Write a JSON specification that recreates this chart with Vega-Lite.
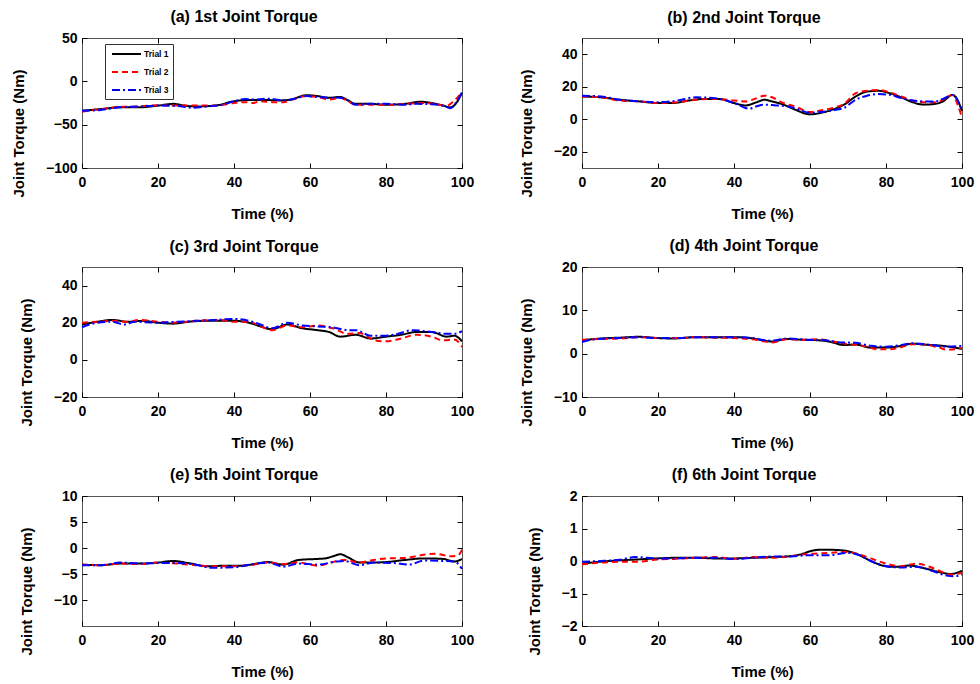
{
"$schema":"https://vega.github.io/schema/vega-lite/v6.json",
"background":"white",
"padding":{"left":10,"top":8,"right":5,"bottom":5},
"data":{"values":[
{"p":"a","s":"Trial 1","t":0,"v":-34},{"p":"a","s":"Trial 1","t":5,"v":-32},{"p":"a","s":"Trial 1","t":10,"v":-30},{"p":"a","s":"Trial 1","t":15,"v":-30},{"p":"a","s":"Trial 1","t":20,"v":-28},{"p":"a","s":"Trial 1","t":24,"v":-26},{"p":"a","s":"Trial 1","t":27,"v":-28},{"p":"a","s":"Trial 1","t":30,"v":-29},{"p":"a","s":"Trial 1","t":35,"v":-28},{"p":"a","s":"Trial 1","t":40,"v":-23},{"p":"a","s":"Trial 1","t":44,"v":-21.5},{"p":"a","s":"Trial 1","t":48,"v":-21.5},{"p":"a","s":"Trial 1","t":52,"v":-22},{"p":"a","s":"Trial 1","t":55,"v":-21},{"p":"a","s":"Trial 1","t":59,"v":-16},{"p":"a","s":"Trial 1","t":62,"v":-17},{"p":"a","s":"Trial 1","t":65,"v":-19},{"p":"a","s":"Trial 1","t":68,"v":-18},{"p":"a","s":"Trial 1","t":70,"v":-22},{"p":"a","s":"Trial 1","t":72,"v":-26},{"p":"a","s":"Trial 1","t":76,"v":-26},{"p":"a","s":"Trial 1","t":80,"v":-27},{"p":"a","s":"Trial 1","t":85,"v":-26},{"p":"a","s":"Trial 1","t":89,"v":-23.5},{"p":"a","s":"Trial 1","t":92,"v":-25},{"p":"a","s":"Trial 1","t":95,"v":-28},{"p":"a","s":"Trial 1","t":97,"v":-30},{"p":"a","s":"Trial 1","t":98.5,"v":-25},{"p":"a","s":"Trial 1","t":100,"v":-13},
{"p":"a","s":"Trial 2","t":0,"v":-35},{"p":"a","s":"Trial 2","t":5,"v":-32},{"p":"a","s":"Trial 2","t":10,"v":-29.5},{"p":"a","s":"Trial 2","t":15,"v":-29},{"p":"a","s":"Trial 2","t":20,"v":-27.5},{"p":"a","s":"Trial 2","t":25,"v":-28},{"p":"a","s":"Trial 2","t":30,"v":-28},{"p":"a","s":"Trial 2","t":35,"v":-28},{"p":"a","s":"Trial 2","t":40,"v":-25},{"p":"a","s":"Trial 2","t":43,"v":-24},{"p":"a","s":"Trial 2","t":45,"v":-25},{"p":"a","s":"Trial 2","t":47,"v":-23},{"p":"a","s":"Trial 2","t":50,"v":-24},{"p":"a","s":"Trial 2","t":53,"v":-24},{"p":"a","s":"Trial 2","t":56,"v":-20},{"p":"a","s":"Trial 2","t":59,"v":-17},{"p":"a","s":"Trial 2","t":62,"v":-18},{"p":"a","s":"Trial 2","t":65,"v":-21},{"p":"a","s":"Trial 2","t":68,"v":-19},{"p":"a","s":"Trial 2","t":70,"v":-23},{"p":"a","s":"Trial 2","t":72,"v":-27},{"p":"a","s":"Trial 2","t":76,"v":-27},{"p":"a","s":"Trial 2","t":80,"v":-27},{"p":"a","s":"Trial 2","t":85,"v":-26},{"p":"a","s":"Trial 2","t":89,"v":-25},{"p":"a","s":"Trial 2","t":93,"v":-26},{"p":"a","s":"Trial 2","t":96,"v":-28},{"p":"a","s":"Trial 2","t":98,"v":-22},{"p":"a","s":"Trial 2","t":100,"v":-13},
{"p":"a","s":"Trial 3","t":0,"v":-34},{"p":"a","s":"Trial 3","t":5,"v":-33},{"p":"a","s":"Trial 3","t":10,"v":-30},{"p":"a","s":"Trial 3","t":15,"v":-29},{"p":"a","s":"Trial 3","t":20,"v":-28},{"p":"a","s":"Trial 3","t":25,"v":-28.5},{"p":"a","s":"Trial 3","t":29,"v":-30.5},{"p":"a","s":"Trial 3","t":33,"v":-29},{"p":"a","s":"Trial 3","t":37,"v":-27},{"p":"a","s":"Trial 3","t":40,"v":-23},{"p":"a","s":"Trial 3","t":43,"v":-20.5},{"p":"a","s":"Trial 3","t":46,"v":-21},{"p":"a","s":"Trial 3","t":49,"v":-20},{"p":"a","s":"Trial 3","t":53,"v":-22},{"p":"a","s":"Trial 3","t":56,"v":-20},{"p":"a","s":"Trial 3","t":59,"v":-17},{"p":"a","s":"Trial 3","t":62,"v":-18},{"p":"a","s":"Trial 3","t":65,"v":-19},{"p":"a","s":"Trial 3","t":68,"v":-19},{"p":"a","s":"Trial 3","t":70,"v":-22},{"p":"a","s":"Trial 3","t":72,"v":-27},{"p":"a","s":"Trial 3","t":76,"v":-26},{"p":"a","s":"Trial 3","t":80,"v":-26},{"p":"a","s":"Trial 3","t":85,"v":-27},{"p":"a","s":"Trial 3","t":88,"v":-26},{"p":"a","s":"Trial 3","t":92,"v":-26.5},{"p":"a","s":"Trial 3","t":95,"v":-28},{"p":"a","s":"Trial 3","t":97,"v":-31},{"p":"a","s":"Trial 3","t":98.5,"v":-24},{"p":"a","s":"Trial 3","t":100,"v":-13},
{"p":"b","s":"Trial 1","t":0,"v":14},{"p":"b","s":"Trial 1","t":5,"v":13.5},{"p":"b","s":"Trial 1","t":10,"v":12},{"p":"b","s":"Trial 1","t":15,"v":11},{"p":"b","s":"Trial 1","t":20,"v":10},{"p":"b","s":"Trial 1","t":24,"v":10},{"p":"b","s":"Trial 1","t":28,"v":11.5},{"p":"b","s":"Trial 1","t":32,"v":12.5},{"p":"b","s":"Trial 1","t":36,"v":12.5},{"p":"b","s":"Trial 1","t":40,"v":10},{"p":"b","s":"Trial 1","t":43,"v":8.5},{"p":"b","s":"Trial 1","t":46,"v":10.5},{"p":"b","s":"Trial 1","t":48,"v":12},{"p":"b","s":"Trial 1","t":50,"v":11},{"p":"b","s":"Trial 1","t":53,"v":9},{"p":"b","s":"Trial 1","t":56,"v":6},{"p":"b","s":"Trial 1","t":60,"v":3},{"p":"b","s":"Trial 1","t":63,"v":4},{"p":"b","s":"Trial 1","t":66,"v":6},{"p":"b","s":"Trial 1","t":69,"v":9},{"p":"b","s":"Trial 1","t":72,"v":14},{"p":"b","s":"Trial 1","t":75,"v":17},{"p":"b","s":"Trial 1","t":78,"v":17.5},{"p":"b","s":"Trial 1","t":81,"v":16},{"p":"b","s":"Trial 1","t":84,"v":13.5},{"p":"b","s":"Trial 1","t":87,"v":10.5},{"p":"b","s":"Trial 1","t":90,"v":9},{"p":"b","s":"Trial 1","t":93,"v":9.5},{"p":"b","s":"Trial 1","t":95,"v":11},{"p":"b","s":"Trial 1","t":97.5,"v":15},{"p":"b","s":"Trial 1","t":99,"v":11},{"p":"b","s":"Trial 1","t":100,"v":5},
{"p":"b","s":"Trial 2","t":0,"v":14},{"p":"b","s":"Trial 2","t":5,"v":13.5},{"p":"b","s":"Trial 2","t":10,"v":11.5},{"p":"b","s":"Trial 2","t":15,"v":11},{"p":"b","s":"Trial 2","t":20,"v":10},{"p":"b","s":"Trial 2","t":25,"v":10.5},{"p":"b","s":"Trial 2","t":30,"v":12},{"p":"b","s":"Trial 2","t":35,"v":12.5},{"p":"b","s":"Trial 2","t":40,"v":11.5},{"p":"b","s":"Trial 2","t":43,"v":11},{"p":"b","s":"Trial 2","t":46,"v":13},{"p":"b","s":"Trial 2","t":48,"v":14.5},{"p":"b","s":"Trial 2","t":50,"v":13.5},{"p":"b","s":"Trial 2","t":53,"v":10},{"p":"b","s":"Trial 2","t":56,"v":8},{"p":"b","s":"Trial 2","t":60,"v":4.5},{"p":"b","s":"Trial 2","t":63,"v":5.5},{"p":"b","s":"Trial 2","t":66,"v":7},{"p":"b","s":"Trial 2","t":69,"v":9.5},{"p":"b","s":"Trial 2","t":72,"v":16},{"p":"b","s":"Trial 2","t":75,"v":17.5},{"p":"b","s":"Trial 2","t":78,"v":18},{"p":"b","s":"Trial 2","t":81,"v":16.5},{"p":"b","s":"Trial 2","t":84,"v":14},{"p":"b","s":"Trial 2","t":87,"v":11.5},{"p":"b","s":"Trial 2","t":90,"v":10.5},{"p":"b","s":"Trial 2","t":93,"v":10.5},{"p":"b","s":"Trial 2","t":95,"v":12},{"p":"b","s":"Trial 2","t":97.5,"v":15},{"p":"b","s":"Trial 2","t":99,"v":8},{"p":"b","s":"Trial 2","t":100,"v":1},
{"p":"b","s":"Trial 3","t":0,"v":14.5},{"p":"b","s":"Trial 3","t":5,"v":14},{"p":"b","s":"Trial 3","t":10,"v":12},{"p":"b","s":"Trial 3","t":15,"v":11},{"p":"b","s":"Trial 3","t":20,"v":10.5},{"p":"b","s":"Trial 3","t":25,"v":11.5},{"p":"b","s":"Trial 3","t":30,"v":13.5},{"p":"b","s":"Trial 3","t":35,"v":13},{"p":"b","s":"Trial 3","t":40,"v":10},{"p":"b","s":"Trial 3","t":44,"v":6.5},{"p":"b","s":"Trial 3","t":46,"v":8},{"p":"b","s":"Trial 3","t":48,"v":9},{"p":"b","s":"Trial 3","t":51,"v":8.5},{"p":"b","s":"Trial 3","t":54,"v":8},{"p":"b","s":"Trial 3","t":57,"v":6},{"p":"b","s":"Trial 3","t":60,"v":4},{"p":"b","s":"Trial 3","t":63,"v":4.5},{"p":"b","s":"Trial 3","t":66,"v":5.5},{"p":"b","s":"Trial 3","t":69,"v":7},{"p":"b","s":"Trial 3","t":72,"v":12},{"p":"b","s":"Trial 3","t":75,"v":14.5},{"p":"b","s":"Trial 3","t":78,"v":15.5},{"p":"b","s":"Trial 3","t":81,"v":15},{"p":"b","s":"Trial 3","t":84,"v":13},{"p":"b","s":"Trial 3","t":87,"v":11.5},{"p":"b","s":"Trial 3","t":90,"v":11},{"p":"b","s":"Trial 3","t":93,"v":11},{"p":"b","s":"Trial 3","t":95,"v":12.5},{"p":"b","s":"Trial 3","t":97.5,"v":15},{"p":"b","s":"Trial 3","t":99,"v":11},{"p":"b","s":"Trial 3","t":100,"v":5},
{"p":"c","s":"Trial 1","t":0,"v":19},{"p":"c","s":"Trial 1","t":4,"v":20.5},{"p":"c","s":"Trial 1","t":8,"v":21.5},{"p":"c","s":"Trial 1","t":12,"v":20.5},{"p":"c","s":"Trial 1","t":16,"v":21},{"p":"c","s":"Trial 1","t":20,"v":20},{"p":"c","s":"Trial 1","t":24,"v":19.5},{"p":"c","s":"Trial 1","t":28,"v":20.5},{"p":"c","s":"Trial 1","t":32,"v":21},{"p":"c","s":"Trial 1","t":36,"v":21},{"p":"c","s":"Trial 1","t":40,"v":21},{"p":"c","s":"Trial 1","t":44,"v":20},{"p":"c","s":"Trial 1","t":47,"v":18},{"p":"c","s":"Trial 1","t":50,"v":16.5},{"p":"c","s":"Trial 1","t":54,"v":19},{"p":"c","s":"Trial 1","t":58,"v":17},{"p":"c","s":"Trial 1","t":62,"v":16},{"p":"c","s":"Trial 1","t":65,"v":15},{"p":"c","s":"Trial 1","t":68,"v":12.5},{"p":"c","s":"Trial 1","t":72,"v":13.5},{"p":"c","s":"Trial 1","t":76,"v":11.5},{"p":"c","s":"Trial 1","t":80,"v":12.5},{"p":"c","s":"Trial 1","t":84,"v":13.5},{"p":"c","s":"Trial 1","t":88,"v":15},{"p":"c","s":"Trial 1","t":92,"v":15},{"p":"c","s":"Trial 1","t":96,"v":12.5},{"p":"c","s":"Trial 1","t":98,"v":13},{"p":"c","s":"Trial 1","t":100,"v":10},
{"p":"c","s":"Trial 2","t":0,"v":20},{"p":"c","s":"Trial 2","t":4,"v":20.5},{"p":"c","s":"Trial 2","t":8,"v":21},{"p":"c","s":"Trial 2","t":12,"v":20.5},{"p":"c","s":"Trial 2","t":15,"v":21.5},{"p":"c","s":"Trial 2","t":20,"v":20.5},{"p":"c","s":"Trial 2","t":24,"v":20},{"p":"c","s":"Trial 2","t":30,"v":21},{"p":"c","s":"Trial 2","t":36,"v":21.5},{"p":"c","s":"Trial 2","t":40,"v":20.5},{"p":"c","s":"Trial 2","t":44,"v":20.5},{"p":"c","s":"Trial 2","t":47,"v":18},{"p":"c","s":"Trial 2","t":50,"v":16},{"p":"c","s":"Trial 2","t":54,"v":18.5},{"p":"c","s":"Trial 2","t":58,"v":17.5},{"p":"c","s":"Trial 2","t":62,"v":18.5},{"p":"c","s":"Trial 2","t":66,"v":17},{"p":"c","s":"Trial 2","t":70,"v":14},{"p":"c","s":"Trial 2","t":73,"v":14.5},{"p":"c","s":"Trial 2","t":77,"v":10.5},{"p":"c","s":"Trial 2","t":80,"v":10},{"p":"c","s":"Trial 2","t":84,"v":11.5},{"p":"c","s":"Trial 2","t":88,"v":13.5},{"p":"c","s":"Trial 2","t":92,"v":12.5},{"p":"c","s":"Trial 2","t":95,"v":10.5},{"p":"c","s":"Trial 2","t":98,"v":11},{"p":"c","s":"Trial 2","t":100,"v":7},
{"p":"c","s":"Trial 3","t":0,"v":17.5},{"p":"c","s":"Trial 3","t":4,"v":20},{"p":"c","s":"Trial 3","t":8,"v":20.5},{"p":"c","s":"Trial 3","t":11,"v":19},{"p":"c","s":"Trial 3","t":14,"v":20.5},{"p":"c","s":"Trial 3","t":20,"v":20},{"p":"c","s":"Trial 3","t":25,"v":20.5},{"p":"c","s":"Trial 3","t":30,"v":21},{"p":"c","s":"Trial 3","t":35,"v":21.5},{"p":"c","s":"Trial 3","t":40,"v":22},{"p":"c","s":"Trial 3","t":44,"v":21},{"p":"c","s":"Trial 3","t":47,"v":19},{"p":"c","s":"Trial 3","t":50,"v":17},{"p":"c","s":"Trial 3","t":54,"v":20},{"p":"c","s":"Trial 3","t":58,"v":18.5},{"p":"c","s":"Trial 3","t":62,"v":18},{"p":"c","s":"Trial 3","t":66,"v":17.5},{"p":"c","s":"Trial 3","t":70,"v":16},{"p":"c","s":"Trial 3","t":72,"v":16},{"p":"c","s":"Trial 3","t":76,"v":13},{"p":"c","s":"Trial 3","t":80,"v":13},{"p":"c","s":"Trial 3","t":83,"v":14},{"p":"c","s":"Trial 3","t":87,"v":16},{"p":"c","s":"Trial 3","t":92,"v":15},{"p":"c","s":"Trial 3","t":96,"v":14},{"p":"c","s":"Trial 3","t":98,"v":14},{"p":"c","s":"Trial 3","t":100,"v":15.5},
{"p":"d","s":"Trial 1","t":0,"v":3.1},{"p":"d","s":"Trial 1","t":5,"v":3.5},{"p":"d","s":"Trial 1","t":10,"v":3.7},{"p":"d","s":"Trial 1","t":15,"v":3.9},{"p":"d","s":"Trial 1","t":20,"v":3.6},{"p":"d","s":"Trial 1","t":24,"v":3.5},{"p":"d","s":"Trial 1","t":30,"v":3.8},{"p":"d","s":"Trial 1","t":35,"v":3.8},{"p":"d","s":"Trial 1","t":40,"v":3.8},{"p":"d","s":"Trial 1","t":45,"v":3.5},{"p":"d","s":"Trial 1","t":48,"v":3.0},{"p":"d","s":"Trial 1","t":50,"v":2.8},{"p":"d","s":"Trial 1","t":54,"v":3.4},{"p":"d","s":"Trial 1","t":58,"v":3.2},{"p":"d","s":"Trial 1","t":62,"v":3.1},{"p":"d","s":"Trial 1","t":65,"v":2.8},{"p":"d","s":"Trial 1","t":69,"v":2.0},{"p":"d","s":"Trial 1","t":72,"v":2.1},{"p":"d","s":"Trial 1","t":76,"v":1.4},{"p":"d","s":"Trial 1","t":80,"v":1.4},{"p":"d","s":"Trial 1","t":84,"v":1.8},{"p":"d","s":"Trial 1","t":87,"v":2.3},{"p":"d","s":"Trial 1","t":90,"v":2.1},{"p":"d","s":"Trial 1","t":95,"v":1.8},{"p":"d","s":"Trial 1","t":100,"v":1.1},
{"p":"d","s":"Trial 2","t":0,"v":3.2},{"p":"d","s":"Trial 2","t":5,"v":3.4},{"p":"d","s":"Trial 2","t":10,"v":3.5},{"p":"d","s":"Trial 2","t":15,"v":3.8},{"p":"d","s":"Trial 2","t":20,"v":3.6},{"p":"d","s":"Trial 2","t":25,"v":3.6},{"p":"d","s":"Trial 2","t":30,"v":3.8},{"p":"d","s":"Trial 2","t":35,"v":3.7},{"p":"d","s":"Trial 2","t":40,"v":3.6},{"p":"d","s":"Trial 2","t":45,"v":3.3},{"p":"d","s":"Trial 2","t":50,"v":2.6},{"p":"d","s":"Trial 2","t":54,"v":3.3},{"p":"d","s":"Trial 2","t":58,"v":3.2},{"p":"d","s":"Trial 2","t":62,"v":3.3},{"p":"d","s":"Trial 2","t":66,"v":2.8},{"p":"d","s":"Trial 2","t":70,"v":2.2},{"p":"d","s":"Trial 2","t":74,"v":1.8},{"p":"d","s":"Trial 2","t":78,"v":1.0},{"p":"d","s":"Trial 2","t":81,"v":1.0},{"p":"d","s":"Trial 2","t":84,"v":1.5},{"p":"d","s":"Trial 2","t":87,"v":2.2},{"p":"d","s":"Trial 2","t":90,"v":2.1},{"p":"d","s":"Trial 2","t":94,"v":1.4},{"p":"d","s":"Trial 2","t":96,"v":0.9},{"p":"d","s":"Trial 2","t":98,"v":1.0},{"p":"d","s":"Trial 2","t":100,"v":1.3},
{"p":"d","s":"Trial 3","t":0,"v":2.7},{"p":"d","s":"Trial 3","t":4,"v":3.4},{"p":"d","s":"Trial 3","t":10,"v":3.6},{"p":"d","s":"Trial 3","t":15,"v":3.8},{"p":"d","s":"Trial 3","t":20,"v":3.6},{"p":"d","s":"Trial 3","t":25,"v":3.6},{"p":"d","s":"Trial 3","t":30,"v":3.8},{"p":"d","s":"Trial 3","t":35,"v":3.8},{"p":"d","s":"Trial 3","t":40,"v":3.8},{"p":"d","s":"Trial 3","t":45,"v":3.6},{"p":"d","s":"Trial 3","t":48,"v":3.1},{"p":"d","s":"Trial 3","t":50,"v":3.0},{"p":"d","s":"Trial 3","t":54,"v":3.5},{"p":"d","s":"Trial 3","t":60,"v":3.2},{"p":"d","s":"Trial 3","t":64,"v":3.1},{"p":"d","s":"Trial 3","t":68,"v":2.6},{"p":"d","s":"Trial 3","t":72,"v":2.5},{"p":"d","s":"Trial 3","t":76,"v":1.8},{"p":"d","s":"Trial 3","t":80,"v":1.6},{"p":"d","s":"Trial 3","t":84,"v":2.0},{"p":"d","s":"Trial 3","t":87,"v":2.4},{"p":"d","s":"Trial 3","t":92,"v":2.0},{"p":"d","s":"Trial 3","t":96,"v":1.6},{"p":"d","s":"Trial 3","t":100,"v":1.8},
{"p":"e","s":"Trial 1","t":0,"v":-3.2},{"p":"e","s":"Trial 1","t":5,"v":-3.3},{"p":"e","s":"Trial 1","t":10,"v":-3.0},{"p":"e","s":"Trial 1","t":15,"v":-3.0},{"p":"e","s":"Trial 1","t":20,"v":-2.8},{"p":"e","s":"Trial 1","t":24,"v":-2.5},{"p":"e","s":"Trial 1","t":28,"v":-2.9},{"p":"e","s":"Trial 1","t":33,"v":-3.5},{"p":"e","s":"Trial 1","t":38,"v":-3.4},{"p":"e","s":"Trial 1","t":42,"v":-3.4},{"p":"e","s":"Trial 1","t":46,"v":-3.0},{"p":"e","s":"Trial 1","t":49,"v":-2.7},{"p":"e","s":"Trial 1","t":53,"v":-3.2},{"p":"e","s":"Trial 1","t":57,"v":-2.3},{"p":"e","s":"Trial 1","t":62,"v":-2.1},{"p":"e","s":"Trial 1","t":64,"v":-2.0},{"p":"e","s":"Trial 1","t":66,"v":-1.6},{"p":"e","s":"Trial 1","t":68,"v":-1.2},{"p":"e","s":"Trial 1","t":70,"v":-1.8},{"p":"e","s":"Trial 1","t":73,"v":-2.8},{"p":"e","s":"Trial 1","t":76,"v":-2.8},{"p":"e","s":"Trial 1","t":80,"v":-2.7},{"p":"e","s":"Trial 1","t":85,"v":-2.3},{"p":"e","s":"Trial 1","t":90,"v":-2.0},{"p":"e","s":"Trial 1","t":95,"v":-2.1},{"p":"e","s":"Trial 1","t":98,"v":-2.6},{"p":"e","s":"Trial 1","t":100,"v":-2.1},
{"p":"e","s":"Trial 2","t":0,"v":-3.2},{"p":"e","s":"Trial 2","t":5,"v":-3.3},{"p":"e","s":"Trial 2","t":10,"v":-3.0},{"p":"e","s":"Trial 2","t":15,"v":-3.1},{"p":"e","s":"Trial 2","t":20,"v":-2.8},{"p":"e","s":"Trial 2","t":25,"v":-3.0},{"p":"e","s":"Trial 2","t":30,"v":-3.3},{"p":"e","s":"Trial 2","t":33,"v":-3.5},{"p":"e","s":"Trial 2","t":40,"v":-3.5},{"p":"e","s":"Trial 2","t":45,"v":-3.2},{"p":"e","s":"Trial 2","t":49,"v":-2.8},{"p":"e","s":"Trial 2","t":53,"v":-3.1},{"p":"e","s":"Trial 2","t":57,"v":-2.8},{"p":"e","s":"Trial 2","t":62,"v":-3.4},{"p":"e","s":"Trial 2","t":66,"v":-2.7},{"p":"e","s":"Trial 2","t":69,"v":-2.3},{"p":"e","s":"Trial 2","t":73,"v":-2.8},{"p":"e","s":"Trial 2","t":76,"v":-2.4},{"p":"e","s":"Trial 2","t":80,"v":-2.0},{"p":"e","s":"Trial 2","t":85,"v":-1.9},{"p":"e","s":"Trial 2","t":90,"v":-1.3},{"p":"e","s":"Trial 2","t":93,"v":-1.1},{"p":"e","s":"Trial 2","t":97,"v":-1.6},{"p":"e","s":"Trial 2","t":99,"v":-1.4},{"p":"e","s":"Trial 2","t":100,"v":-0.3},
{"p":"e","s":"Trial 3","t":0,"v":-3.3},{"p":"e","s":"Trial 3","t":5,"v":-3.3},{"p":"e","s":"Trial 3","t":10,"v":-2.8},{"p":"e","s":"Trial 3","t":15,"v":-3.0},{"p":"e","s":"Trial 3","t":20,"v":-2.9},{"p":"e","s":"Trial 3","t":25,"v":-2.9},{"p":"e","s":"Trial 3","t":30,"v":-3.2},{"p":"e","s":"Trial 3","t":34,"v":-3.8},{"p":"e","s":"Trial 3","t":40,"v":-3.7},{"p":"e","s":"Trial 3","t":45,"v":-3.1},{"p":"e","s":"Trial 3","t":49,"v":-2.8},{"p":"e","s":"Trial 3","t":53,"v":-3.6},{"p":"e","s":"Trial 3","t":57,"v":-3.0},{"p":"e","s":"Trial 3","t":62,"v":-3.2},{"p":"e","s":"Trial 3","t":67,"v":-2.6},{"p":"e","s":"Trial 3","t":69,"v":-2.5},{"p":"e","s":"Trial 3","t":73,"v":-3.3},{"p":"e","s":"Trial 3","t":77,"v":-2.8},{"p":"e","s":"Trial 3","t":82,"v":-2.9},{"p":"e","s":"Trial 3","t":86,"v":-3.2},{"p":"e","s":"Trial 3","t":90,"v":-2.4},{"p":"e","s":"Trial 3","t":95,"v":-2.5},{"p":"e","s":"Trial 3","t":98,"v":-2.6},{"p":"e","s":"Trial 3","t":100,"v":-4.0},
{"p":"f","s":"Trial 1","t":0,"v":-0.08},{"p":"f","s":"Trial 1","t":5,"v":-0.02},{"p":"f","s":"Trial 1","t":10,"v":0.02},{"p":"f","s":"Trial 1","t":15,"v":0.05},{"p":"f","s":"Trial 1","t":20,"v":0.08},{"p":"f","s":"Trial 1","t":25,"v":0.1},{"p":"f","s":"Trial 1","t":30,"v":0.1},{"p":"f","s":"Trial 1","t":35,"v":0.08},{"p":"f","s":"Trial 1","t":40,"v":0.08},{"p":"f","s":"Trial 1","t":45,"v":0.1},{"p":"f","s":"Trial 1","t":50,"v":0.12},{"p":"f","s":"Trial 1","t":55,"v":0.15},{"p":"f","s":"Trial 1","t":58,"v":0.22},{"p":"f","s":"Trial 1","t":60,"v":0.3},{"p":"f","s":"Trial 1","t":63,"v":0.35},{"p":"f","s":"Trial 1","t":67,"v":0.34},{"p":"f","s":"Trial 1","t":70,"v":0.3},{"p":"f","s":"Trial 1","t":73,"v":0.18},{"p":"f","s":"Trial 1","t":76,"v":0.0},{"p":"f","s":"Trial 1","t":80,"v":-0.16},{"p":"f","s":"Trial 1","t":83,"v":-0.18},{"p":"f","s":"Trial 1","t":86,"v":-0.14},{"p":"f","s":"Trial 1","t":90,"v":-0.22},{"p":"f","s":"Trial 1","t":94,"v":-0.34},{"p":"f","s":"Trial 1","t":97,"v":-0.4},{"p":"f","s":"Trial 1","t":100,"v":-0.3},
{"p":"f","s":"Trial 2","t":0,"v":-0.1},{"p":"f","s":"Trial 2","t":5,"v":-0.05},{"p":"f","s":"Trial 2","t":10,"v":-0.02},{"p":"f","s":"Trial 2","t":15,"v":-0.02},{"p":"f","s":"Trial 2","t":20,"v":0.05},{"p":"f","s":"Trial 2","t":25,"v":0.07},{"p":"f","s":"Trial 2","t":30,"v":0.1},{"p":"f","s":"Trial 2","t":35,"v":0.12},{"p":"f","s":"Trial 2","t":40,"v":0.07},{"p":"f","s":"Trial 2","t":45,"v":0.12},{"p":"f","s":"Trial 2","t":50,"v":0.1},{"p":"f","s":"Trial 2","t":55,"v":0.15},{"p":"f","s":"Trial 2","t":60,"v":0.22},{"p":"f","s":"Trial 2","t":65,"v":0.25},{"p":"f","s":"Trial 2","t":70,"v":0.28},{"p":"f","s":"Trial 2","t":73,"v":0.2},{"p":"f","s":"Trial 2","t":76,"v":0.08},{"p":"f","s":"Trial 2","t":80,"v":-0.08},{"p":"f","s":"Trial 2","t":84,"v":-0.16},{"p":"f","s":"Trial 2","t":88,"v":-0.08},{"p":"f","s":"Trial 2","t":92,"v":-0.2},{"p":"f","s":"Trial 2","t":95,"v":-0.35},{"p":"f","s":"Trial 2","t":97,"v":-0.42},{"p":"f","s":"Trial 2","t":100,"v":-0.36},
{"p":"f","s":"Trial 3","t":0,"v":-0.02},{"p":"f","s":"Trial 3","t":5,"v":0.0},{"p":"f","s":"Trial 3","t":10,"v":0.04},{"p":"f","s":"Trial 3","t":14,"v":0.12},{"p":"f","s":"Trial 3","t":20,"v":0.08},{"p":"f","s":"Trial 3","t":25,"v":0.08},{"p":"f","s":"Trial 3","t":30,"v":0.1},{"p":"f","s":"Trial 3","t":35,"v":0.1},{"p":"f","s":"Trial 3","t":40,"v":0.06},{"p":"f","s":"Trial 3","t":45,"v":0.1},{"p":"f","s":"Trial 3","t":50,"v":0.14},{"p":"f","s":"Trial 3","t":55,"v":0.14},{"p":"f","s":"Trial 3","t":60,"v":0.18},{"p":"f","s":"Trial 3","t":65,"v":0.18},{"p":"f","s":"Trial 3","t":70,"v":0.25},{"p":"f","s":"Trial 3","t":73,"v":0.18},{"p":"f","s":"Trial 3","t":76,"v":0.0},{"p":"f","s":"Trial 3","t":80,"v":-0.16},{"p":"f","s":"Trial 3","t":84,"v":-0.2},{"p":"f","s":"Trial 3","t":88,"v":-0.18},{"p":"f","s":"Trial 3","t":92,"v":-0.3},{"p":"f","s":"Trial 3","t":96,"v":-0.45},{"p":"f","s":"Trial 3","t":98,"v":-0.47},{"p":"f","s":"Trial 3","t":100,"v":-0.42}
]},
"config":{
"font":"Liberation Sans",
"view":{"stroke":"#555555","strokeWidth":1},
"axis":{"grid":false,"domain":false,"tickColor":"black","tickSize":-5,"tickWidth":1,"labelFont":"Liberation Sans","labelFontWeight":"bold","labelFontSize":14,"labelColor":"black","labelFlush":false,"labelOverlap":false,"titleFont":"Liberation Sans","titleFontWeight":"bold","titleFontSize":15,"titleColor":"black"},
"axisX":{"labelPadding":12,"titlePadding":17,"titleX":180},
"axisY":{"labelPadding":10,"titlePadding":19,"titleY":95},
"title":{"font":"Liberation Sans","fontWeight":"bold","fontSize":16,"color":"black","offset":6,"dx":-28},
"legend":{"orient":"none","legendX":23,"legendY":6,"title":null,"strokeColor":"#333333","fillColor":"white","padding":4,"symbolType":"M-2.9,0H2.9","symbolSize":100,"symbolStrokeWidth":2,"symbolOffset":11.5,"labelFont":"Liberation Sans","labelFontWeight":"bold","labelFontSize":8.5,"labelColor":"black","labelOffset":11.5,"rowPadding":7,"labelExpr":"datum.label + '\u00a0\u00a0\u00a0\u00a0\u00a0'"}
},
"columns":2,
"spacing":{"row":99,"column":120},
"bounds":"flush",
"resolve":{"scale":{"x":"independent","y":"independent"},"legend":{"color":"independent","strokeDash":"independent"}},
"concat":[
{"width":380,"height":130,"title":{"text":"(a) 1st Joint Torque","offset":6},"transform":[{"filter":"datum.p==='a'"}],
"layer":[
{"mark":{"type":"line","interpolate":"monotone","strokeWidth":2},
"encoding":{
"x":{"field":"t","type":"quantitative","scale":{"domain":[0,100],"nice":false},"axis":{"values":[0,20,40,60,80,100],"title":"Time (%)"}},
"y":{"field":"v","type":"quantitative","scale":{"domain":[-100,50],"nice":false,"zero":false},"axis":{"values":[-100,-50,0,50],"title":"Joint Torque (Nm)"}},
"color":{"field":"s","type":"nominal","scale":{"domain":["Trial 1","Trial 2","Trial 3"],"range":["#000000","#ff0000","#0000ff"]}},
"strokeDash":{"field":"s","type":"nominal","scale":{"domain":["Trial 1","Trial 2","Trial 3"],"range":[[1,0],[6,4],[8,3,2,3]]}}}},
{"mark":{"type":"line","opacity":0},
"encoding":{
"x":{"field":"t","type":"quantitative","axis":{"orient":"top","values":[0,20,40,60,80,100],"labels":false,"title":null}},
"y":{"field":"v","type":"quantitative","axis":{"orient":"right","values":[-100,-50,0,50],"labels":false,"title":null}}}}
],
"resolve":{"axis":{"x":"independent","y":"independent"}}},
{"width":380,"height":130,"title":{"text":"(b) 2nd Joint Torque","offset":12},"transform":[{"filter":"datum.p==='b'"}],
"layer":[
{"mark":{"type":"line","interpolate":"monotone","strokeWidth":2},
"encoding":{
"x":{"field":"t","type":"quantitative","scale":{"domain":[0,100],"nice":false},"axis":{"values":[0,20,40,60,80,100],"title":"Time (%)"}},
"y":{"field":"v","type":"quantitative","scale":{"domain":[-30,50],"nice":false,"zero":false},"axis":{"values":[-20,0,20,40],"title":"Joint Torque (Nm)"}},
"color":{"field":"s","type":"nominal","scale":{"domain":["Trial 1","Trial 2","Trial 3"],"range":["#000000","#ff0000","#0000ff"]},"legend":null},
"strokeDash":{"field":"s","type":"nominal","scale":{"domain":["Trial 1","Trial 2","Trial 3"],"range":[[1,0],[6,4],[8,3,2,3]]},"legend":null}}},
{"mark":{"type":"line","opacity":0},
"encoding":{
"x":{"field":"t","type":"quantitative","axis":{"orient":"top","values":[0,20,40,60,80,100],"labels":false,"title":null}},
"y":{"field":"v","type":"quantitative","axis":{"orient":"right","values":[-20,0,20,40],"labels":false,"title":null}}}}
],
"resolve":{"axis":{"x":"independent","y":"independent"}}},
{"width":380,"height":130,"title":{"text":"(c) 3rd Joint Torque","offset":12},"transform":[{"filter":"datum.p==='c'"}],
"layer":[
{"mark":{"type":"line","interpolate":"monotone","strokeWidth":2},
"encoding":{
"x":{"field":"t","type":"quantitative","scale":{"domain":[0,100],"nice":false},"axis":{"values":[0,20,40,60,80,100],"title":"Time (%)"}},
"y":{"field":"v","type":"quantitative","scale":{"domain":[-20,50],"nice":false,"zero":false},"axis":{"values":[-20,0,20,40],"title":"Joint Torque (Nm)"}},
"color":{"field":"s","type":"nominal","scale":{"domain":["Trial 1","Trial 2","Trial 3"],"range":["#000000","#ff0000","#0000ff"]},"legend":null},
"strokeDash":{"field":"s","type":"nominal","scale":{"domain":["Trial 1","Trial 2","Trial 3"],"range":[[1,0],[6,4],[8,3,2,3]]},"legend":null}}},
{"mark":{"type":"line","opacity":0},
"encoding":{
"x":{"field":"t","type":"quantitative","axis":{"orient":"top","values":[0,20,40,60,80,100],"labels":false,"title":null}},
"y":{"field":"v","type":"quantitative","axis":{"orient":"right","values":[-20,0,20,40],"labels":false,"title":null}}}}
],
"resolve":{"axis":{"x":"independent","y":"independent"}}},
{"width":380,"height":130,"title":{"text":"(d) 4th Joint Torque","offset":6},"transform":[{"filter":"datum.p==='d'"}],
"layer":[
{"mark":{"type":"line","interpolate":"monotone","strokeWidth":2},
"encoding":{
"x":{"field":"t","type":"quantitative","scale":{"domain":[0,100],"nice":false},"axis":{"values":[0,20,40,60,80,100],"title":"Time (%)"}},
"y":{"field":"v","type":"quantitative","scale":{"domain":[-10,20],"nice":false,"zero":false},"axis":{"values":[-10,0,10,20],"title":"Joint Torque (Nm)"}},
"color":{"field":"s","type":"nominal","scale":{"domain":["Trial 1","Trial 2","Trial 3"],"range":["#000000","#ff0000","#0000ff"]},"legend":null},
"strokeDash":{"field":"s","type":"nominal","scale":{"domain":["Trial 1","Trial 2","Trial 3"],"range":[[1,0],[6,4],[8,3,2,3]]},"legend":null}}},
{"mark":{"type":"line","opacity":0},
"encoding":{
"x":{"field":"t","type":"quantitative","axis":{"orient":"top","values":[0,20,40,60,80,100],"labels":false,"title":null}},
"y":{"field":"v","type":"quantitative","axis":{"orient":"right","values":[-10,0,10,20],"labels":false,"title":null}}}}
],
"resolve":{"axis":{"x":"independent","y":"independent"}}},
{"width":380,"height":130,"title":{"text":"(e) 5th Joint Torque","offset":6},"transform":[{"filter":"datum.p==='e'"}],
"layer":[
{"mark":{"type":"line","interpolate":"monotone","strokeWidth":2},
"encoding":{
"x":{"field":"t","type":"quantitative","scale":{"domain":[0,100],"nice":false},"axis":{"values":[0,20,40,60,80,100],"title":"Time (%)"}},
"y":{"field":"v","type":"quantitative","scale":{"domain":[-15,10],"nice":false,"zero":false},"axis":{"values":[-10,-5,0,5,10],"title":"Joint Torque (Nm)"}},
"color":{"field":"s","type":"nominal","scale":{"domain":["Trial 1","Trial 2","Trial 3"],"range":["#000000","#ff0000","#0000ff"]},"legend":null},
"strokeDash":{"field":"s","type":"nominal","scale":{"domain":["Trial 1","Trial 2","Trial 3"],"range":[[1,0],[6,4],[8,3,2,3]]},"legend":null}}},
{"mark":{"type":"line","opacity":0},
"encoding":{
"x":{"field":"t","type":"quantitative","axis":{"orient":"top","values":[0,20,40,60,80,100],"labels":false,"title":null}},
"y":{"field":"v","type":"quantitative","axis":{"orient":"right","values":[-10,-5,0,5,10],"labels":false,"title":null}}}}
],
"resolve":{"axis":{"x":"independent","y":"independent"}}},
{"width":380,"height":130,"title":{"text":"(f) 6th Joint Torque","offset":6},"transform":[{"filter":"datum.p==='f'"}],
"layer":[
{"mark":{"type":"line","interpolate":"monotone","strokeWidth":2},
"encoding":{
"x":{"field":"t","type":"quantitative","scale":{"domain":[0,100],"nice":false},"axis":{"values":[0,20,40,60,80,100],"title":"Time (%)"}},
"y":{"field":"v","type":"quantitative","scale":{"domain":[-2,2],"nice":false,"zero":false},"axis":{"values":[-2,-1,0,1,2],"title":"Joint Torque (Nm)"}},
"color":{"field":"s","type":"nominal","scale":{"domain":["Trial 1","Trial 2","Trial 3"],"range":["#000000","#ff0000","#0000ff"]},"legend":null},
"strokeDash":{"field":"s","type":"nominal","scale":{"domain":["Trial 1","Trial 2","Trial 3"],"range":[[1,0],[6,4],[8,3,2,3]]},"legend":null}}},
{"mark":{"type":"line","opacity":0},
"encoding":{
"x":{"field":"t","type":"quantitative","axis":{"orient":"top","values":[0,20,40,60,80,100],"labels":false,"title":null}},
"y":{"field":"v","type":"quantitative","axis":{"orient":"right","values":[-2,-1,0,1,2],"labels":false,"title":null}}}}
],
"resolve":{"axis":{"x":"independent","y":"independent"}}}
]
}
